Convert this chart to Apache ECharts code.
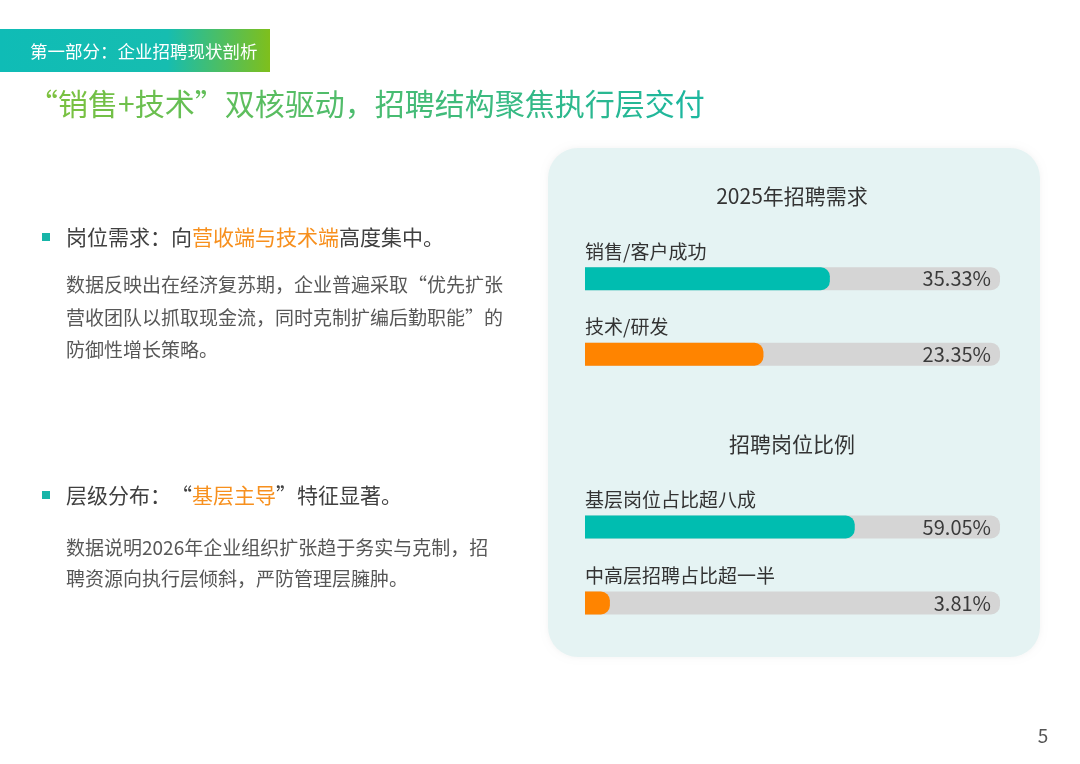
<!DOCTYPE html>
<html>
<head>
<meta charset="utf-8">
<script src="https://cdn.jsdelivr.net/npm/echarts@6/dist/echarts.min.js"></script>
<style>
  html, body { margin: 0; padding: 0; background: #fff; }
  #page { width: 1080px; height: 764px; }
</style>
</head>
<body>
<div id="page"></div>
<script>
// 2025年招聘需求
var demandCats = ['销售/客户成功', '技术/研发'];
var demandPct = [35.33, 23.35];
var demandFill = [59, 43];   // 条长（占轨道%）
// 招聘岗位比例
var levelCats = ['基层岗位占比超八成', '中高层招聘占比超一半'];
var levelPct = [59.05, 3.81];
var levelFill = [65, 6];
var barColors = ['#00bdb0', '#ff8400'];

var FONT = '"Noto Sans CJK SC", "Noto Sans", sans-serif';
var TITLE = '“销售+技术”双核驱动，招聘结构聚焦执行层交付';
var view = {};

// 标题渐变色：逐字着色（绿 -> 青绿）
view.titleRich = function (text) {
  var from = [124, 193, 62], to = [29, 183, 158];
  var rich = {}, out = '';
  var chars = Array.from(text);
  chars.forEach(function (ch, i) {
    var t = i / (chars.length - 1);
    var c = from.map(function (v, k) { return Math.round(v + (to[k] - v) * t); });
    rich['c' + i] = { fontFamily: FONT, fontSize: 30, fill: 'rgb(' + c.join(',') + ')' };
    out += '{c' + i + '|' + ch + '}';
  });
  return { text: out, rich: rich };
};

// 一组进度条：底轨 + 填充
view.barSeries = function (idx, cats, pct, fill) {
  var track = {
    type: 'bar',
    xAxisIndex: idx,
    yAxisIndex: idx,
    barWidth: 23,
    silent: true,
    data: cats.map(function () { return 100; }),
    itemStyle: { color: '#d5d5d5', borderRadius: [0, 9, 9, 0] },
    label: {
      show: true,
      position: 'insideRight',
      distance: 9,
      fontFamily: FONT,
      fontSize: 20,
      color: '#3a3a3a',
      formatter: function (p) { return pct[p.dataIndex].toFixed(2) + '%'; }
    }
  };
  var bar = {
    type: 'bar',
    xAxisIndex: idx,
    yAxisIndex: idx,
    barWidth: 23,
    barGap: '-100%',
    silent: true,
    data: fill.map(function (v, i) {
      return { value: v, itemStyle: { color: barColors[i] } };
    }),
    itemStyle: { borderRadius: [0, 9, 9, 0] },
    label: {
      show: true,
      position: [0, -6],
      verticalAlign: 'bottom',
      align: 'left',
      fontFamily: FONT,
      fontSize: 19,
      color: '#333',
      formatter: function (p) { return cats[p.dataIndex]; }
    }
  };
  return [track, bar];
};

view.loadChart = function () {
  var chart = echarts.init(document.getElementById('page'));
  var gridBase = { left: 585, width: 415 };
  var title = view.titleRich(TITLE);
  var option = {
    animation: false,
    grid: [
      Object.assign({ top: 241, height: 151 }, gridBase),
      Object.assign({ top: 489, height: 152 }, gridBase)
    ],
    xAxis: [
      { type: 'value', gridIndex: 0, min: 0, max: 100, show: false },
      { type: 'value', gridIndex: 1, min: 0, max: 100, show: false }
    ],
    yAxis: [
      { type: 'category', gridIndex: 0, data: demandCats, inverse: true, show: false },
      { type: 'category', gridIndex: 1, data: levelCats, inverse: true, show: false }
    ],
    series: view.barSeries(0, demandCats, demandPct, demandFill)
      .concat(view.barSeries(1, levelCats, levelPct, levelFill)),
    graphic: [
      // 顶部标签条
      {
        type: 'rect', z: 0,
        shape: { x: 0, y: 29, width: 270, height: 43 },
        style: {
          fill: new echarts.graphic.LinearGradient(0, 0, 1, 0, [
            { offset: 0, color: '#0fbcb6' },
            { offset: 0.62, color: '#16bdb0' },
            { offset: 1, color: '#7fbf1c' }
          ])
        }
      },
      {
        type: 'text', z: 1, x: 30, y: 51,
        style: { text: '第一部分：企业招聘现状剖析', fontFamily: FONT, fontSize: 17.5, fill: '#fff', verticalAlign: 'middle' }
      },
      // 主标题
      {
        type: 'text', z: 1, x: 28, y: 104,
        style: {
          text: title.text, rich: title.rich,
          fontFamily: FONT, fontSize: 30, verticalAlign: 'middle'
        }
      },
      // 右侧面板
      {
        type: 'rect', z: 0,
        shape: { x: 548, y: 148, width: 492, height: 509, r: 30 },
        style: { fill: '#e5f3f3', shadowBlur: 6, shadowColor: 'rgba(0,0,0,0.05)' }
      },
      {
        type: 'text', z: 1, x: 792, y: 196,
        style: { text: '2025年招聘需求', fontFamily: FONT, fontSize: 21, fill: '#333', align: 'center', verticalAlign: 'middle' }
      },
      {
        type: 'text', z: 1, x: 792, y: 444,
        style: { text: '招聘岗位比例', fontFamily: FONT, fontSize: 21, fill: '#333', align: 'center', verticalAlign: 'middle' }
      },
      // 左侧要点
      { type: 'rect', z: 1, shape: { x: 42, y: 233, width: 8, height: 8 }, style: { fill: '#17b5a8' } },
      {
        type: 'text', z: 1, x: 66, y: 237,
        style: {
          text: '岗位需求：向{o|营收端与技术端}高度集中。',
          fontFamily: FONT, fontSize: 21, fill: '#404040', verticalAlign: 'middle',
          rich: { o: { fontFamily: FONT, fontSize: 21, fill: '#f7901e' } }
        }
      },
      {
        type: 'text', z: 1, x: 66, y: 269,
        style: {
          text: '数据反映出在经济复苏期，企业普遍采取“优先扩张\n营收团队以抓取现金流，同时克制扩编后勤职能”的\n防御性增长策略。',
          fontFamily: FONT, fontSize: 19, lineHeight: 32.5, fill: '#575757'
        }
      },
      { type: 'rect', z: 1, shape: { x: 42, y: 491, width: 8, height: 8 }, style: { fill: '#17b5a8' } },
      {
        type: 'text', z: 1, x: 66, y: 495,
        style: {
          text: '层级分布：“{o|基层主导}”特征显著。',
          fontFamily: FONT, fontSize: 21, fill: '#404040', verticalAlign: 'middle',
          rich: { o: { fontFamily: FONT, fontSize: 21, fill: '#f7901e' } }
        }
      },
      {
        type: 'text', z: 1, x: 66, y: 532,
        style: {
          text: '数据说明2026年企业组织扩张趋于务实与克制，招\n聘资源向执行层倾斜，严防管理层臃肿。',
          fontFamily: FONT, fontSize: 19, lineHeight: 31, fill: '#575757'
        }
      },
      // 页码
      {
        type: 'text', z: 1, x: 1043, y: 736,
        style: { text: '5', fontFamily: FONT, fontSize: 19, fill: '#555', align: 'center', verticalAlign: 'middle' }
      }
    ]
  };
  chart.setOption(option);
};

view.loadChart();
</script>
</body>
</html>
